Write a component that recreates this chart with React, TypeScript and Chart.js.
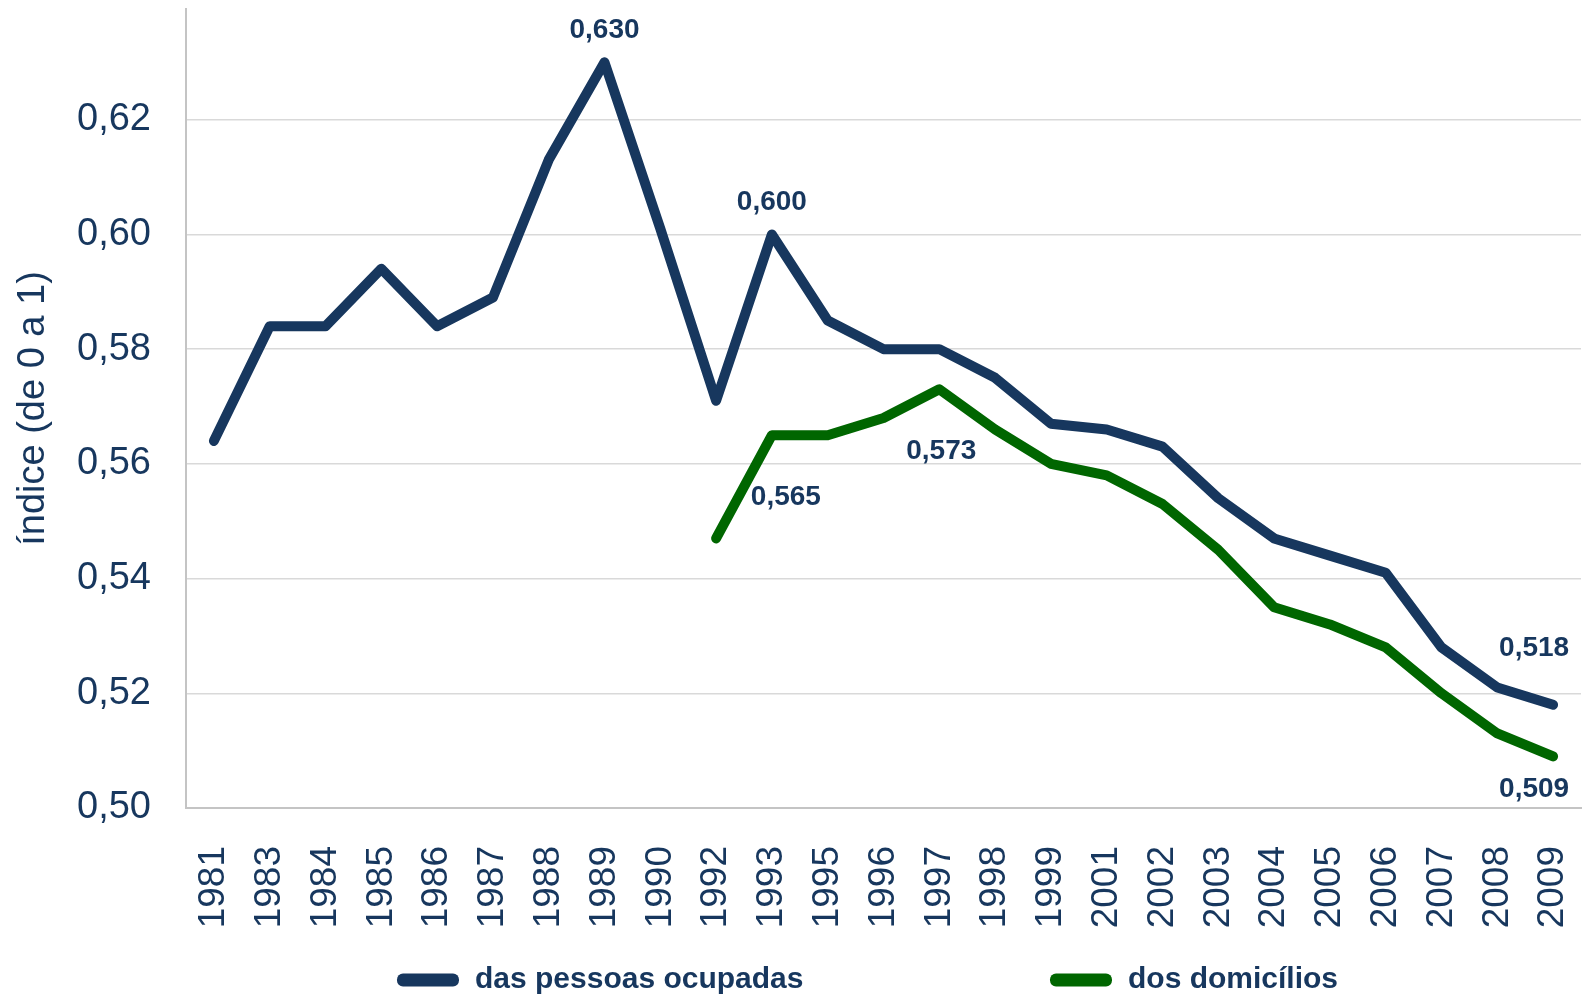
import React, { useEffect, useRef } from "react";
import { Chart, registerables } from "chart.js";

Chart.register(...registerables);

const years = ["1981","1983","1984","1985","1986","1987","1988","1989","1990","1992","1993","1995","1996","1997","1998","1999","2001","2002","2003","2004","2005","2006","2007","2008","2009"];
const pessoasOcupadas = [0.564,0.584,0.584,0.594,0.584,0.589,0.613,0.630,0.601,0.571,0.600,0.585,0.580,0.580,0.575,0.567,0.566,0.563,0.554,0.547,0.544,0.541,0.528,0.521,0.518];
const domicilios = [null,null,null,null,null,null,null,null,null,0.547,0.565,0.565,0.568,0.573,0.566,0.560,0.558,0.553,0.545,0.535,0.532,0.528,0.520,0.513,0.509];
const seriesNames = ["das pessoas ocupadas", "dos domicílios"];
const yTickValues = [0.50, 0.52, 0.54, 0.56, 0.58, 0.60, 0.62];
const axisTitle = "índice (de 0 a 1)";

// which points carry a value label (series index, year) with their label offsets
const pointLabels = [
  { series: 0, year: "1989", dx: 0, dy: -32 },
  { series: 0, year: "1993", dx: 0, dy: -32 },
  { series: 0, year: "2009", dx: -19, dy: -56 },
  { series: 1, year: "1993", dx: 14, dy: 62 },
  { series: 1, year: "1997", dx: 2, dy: 62 },
  { series: 1, year: "2009", dx: -19, dy: 33 },
];

const NAVY = "#17375e";
const GREEN = "#006600";
const FONT = "'Liberation Sans', Arial, sans-serif";

const fmt = (v: number, d: number) => v.toFixed(d).replace(".", ",");

const labelPlugin = {
  id: "pointValueLabels",
  afterDatasetsDraw(chart: any) {
    const ctx = chart.ctx;
    ctx.save();
    ctx.font = `bold 28px ${FONT}`;
    ctx.fillStyle = NAVY;
    ctx.textAlign = "center";
    ctx.textBaseline = "middle";
    pointLabels.forEach((p) => {
      const idx = years.indexOf(p.year);
      const meta = chart.getDatasetMeta(p.series);
      const el = meta.data[idx];
      const v = chart.data.datasets[p.series].data[idx];
      if (!el || v == null) return;
      ctx.fillText(fmt(v, 3), el.x + p.dx, el.y + p.dy);
    });
    ctx.restore();
  },
};

const legendPlugin = {
  id: "bottomLegend",
  afterDraw(chart: any) {
    const ctx = chart.ctx;
    const area = chart.chartArea;
    const y = 980;
    const starts = [area.left + 211, area.left + 864];
    ctx.save();
    ctx.font = `bold 30px ${FONT}`;
    ctx.textBaseline = "middle";
    ctx.textAlign = "left";
    chart.data.datasets.forEach((ds: any, i: number) => {
      const x = starts[i];
      ctx.fillStyle = ds.borderColor;
      ctx.beginPath();
      (ctx as any).roundRect(x, y - 6.5, 62, 13, 6);
      ctx.fill();
      ctx.fillStyle = NAVY;
      ctx.fillText(ds.label, x + 78, y);
    });
    ctx.restore();
  },
};

const zeroPadding = (scale: any) => {
  scale.paddingTop = 0;
  scale.paddingBottom = 0;
  scale.paddingLeft = 0;
  scale.paddingRight = 0;
};

export default function App() {
  const ref = useRef<HTMLCanvasElement>(null);
  useEffect(() => {
    if (!ref.current) return;
    const chart = new Chart(ref.current, {
      type: "line",
      data: {
        labels: years,
        datasets: [
          {
            label: seriesNames[0],
            data: pessoasOcupadas,
            borderColor: NAVY,
            backgroundColor: NAVY,
            borderWidth: 10,
            pointRadius: 0,
            borderCapStyle: "round",
            borderJoinStyle: "round",
            tension: 0,
          },
          {
            label: seriesNames[1],
            data: domicilios,
            borderColor: GREEN,
            backgroundColor: GREEN,
            borderWidth: 10,
            pointRadius: 0,
            borderCapStyle: "round",
            borderJoinStyle: "round",
            tension: 0,
            spanGaps: false,
          },
        ],
      },
      options: {
        animation: false,
        responsive: true,
        maintainAspectRatio: false,
        layout: { padding: { top: 9, right: 5, bottom: 68, left: 0 } },
        plugins: {
          legend: { display: false },
          tooltip: { enabled: false },
        },
        scales: {
          x: {
            offset: true,
            grid: { display: false, drawTicks: false },
            border: { display: true, color: "#c4c4c4", width: 2 },
            ticks: {
              autoSkip: false,
              maxRotation: 90,
              minRotation: 90,
              padding: 38,
              color: NAVY,
              font: { family: FONT, size: 37 },
            },
            afterFit(scale: any) {
              scale.height = 120;
              zeroPadding(scale);
            },
          },
          y: {
            min: 0.5,
            max: 0.6393,
            grid: { color: "#d9d9d9", lineWidth: 1.5, drawTicks: false },
            border: { display: true, color: "#c4c4c4", width: 2 },
            afterBuildTicks(scale: any) {
              scale.ticks = yTickValues.map((v) => ({ value: v }));
            },
            ticks: {
              padding: 35,
              color: NAVY,
              font: { family: FONT, size: 38 },
              callback: (v: any) => fmt(Number(v), 2),
            },
            title: {
              display: true,
              text: axisTitle,
              color: NAVY,
              font: { family: FONT, size: 38 },
              padding: { top: 11, bottom: 0 },
            },
            afterFit(scale: any) {
              scale.width = 186;
              zeroPadding(scale);
            },
          },
        },
      },
      plugins: [labelPlugin, legendPlugin],
    } as any);
    return () => chart.destroy();
  }, []);
  return (
    <div style={{ position: "absolute", left: 0, top: 0, width: 1586, height: 996, background: "#fff" }}>
      <canvas ref={ref} />
    </div>
  );
}
